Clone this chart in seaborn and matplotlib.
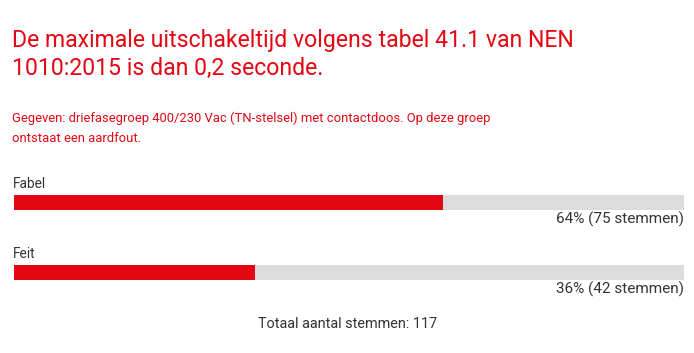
import matplotlib
matplotlib.use("Agg")
import matplotlib.pyplot as plt
import seaborn as sns
import pandas as pd

title_lines = ["De maximale uitschakeltijd volgens tabel 41.1 van NEN", "1010:2015 is dan 0,2 seconde."]
subtitle_lines = ["Gegeven: driefasegroep 400/230 Vac (TN-stelsel) met contactdoos. Op deze groep", "ontstaat een aardfout."]
categories = ["Fabel", "Feit"]
percentages = [64, 36]
votes = [75, 42]
total_votes = 117

RED = "#E30613"
GREY = "#DCDCDC"
TXT = "#333333"

sns.set_theme(style="white")
plt.rcParams["font.family"] = ["Roboto", "DejaVu Sans"]

W, H = 694, 353
fig = plt.figure(figsize=(W / 100, H / 100), dpi=100)

def fx(x):
    return x / W

def fy(y):
    return 1 - y / H

ax = fig.add_axes([fx(14), fy(280), fx(684) - fx(14), fy(195) - fy(280)])
df = pd.DataFrame({"cat": categories, "pct": percentages, "full": [100] * len(categories)})
bw = 15 / 70
sns.barplot(data=df, y="cat", x="full", color=GREY, width=bw, ax=ax, saturation=1, orient="h", linewidth=0)
sns.barplot(data=df, y="cat", x="pct", color=RED, width=bw, ax=ax, saturation=1, orient="h", linewidth=0)
ax.set_xlim(0, 100)
ax.set_ylim(1 + bw / 2, -bw / 2)
ax.axis("off")

tkw = dict(fontweight="normal", va="center", ha="left")
fig.text(fx(12), fy(40), title_lines[0], color=RED, fontsize=16.6, **tkw)
fig.text(fx(12), fy(68), title_lines[1], color=RED, fontsize=16.6, **tkw)
fig.text(fx(12), fy(118), subtitle_lines[0], color=RED, fontsize=9.35, **tkw)
fig.text(fx(12), fy(139), subtitle_lines[1], color=RED, fontsize=9.35, **tkw)

for i, (c, p, v) in enumerate(zip(categories, percentages, votes)):
    yb = 184 + 70 * i
    fig.text(fx(13), fy(yb), c, color=TXT, fontsize=9.8, va="center", ha="left")
    fig.text(fx(684), fy(yb + 35), f"{p}% ({v} stemmen)", color=TXT, fontsize=11, va="center", ha="right")

fig.text(fx(348), fy(324), f"Totaal aantal stemmen: {total_votes}", color=TXT, fontsize=10.4, va="center", ha="center")

fig.savefig("out.png", dpi=100, facecolor="white")
